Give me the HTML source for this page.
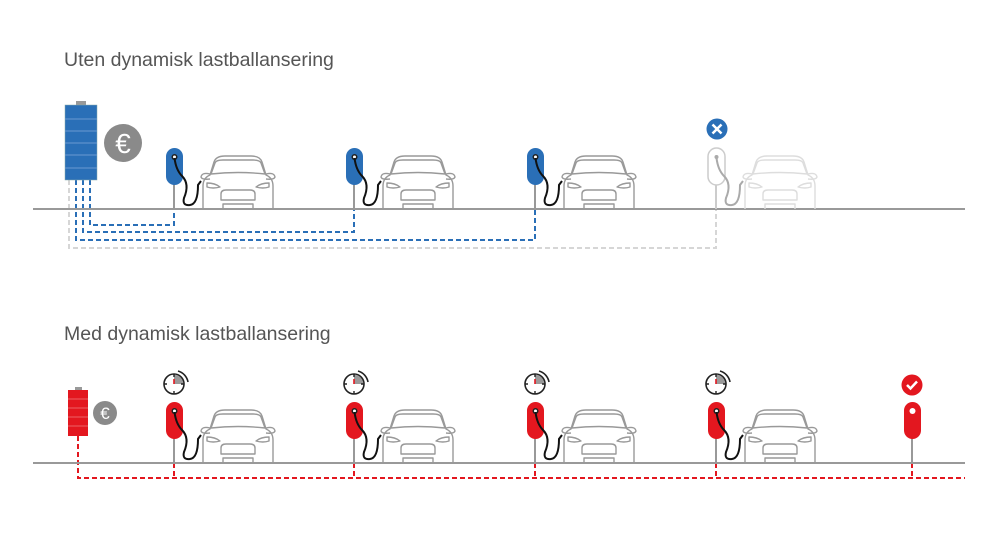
<!DOCTYPE html>
<html><head><meta charset="utf-8"><style>
html,body{margin:0;padding:0;background:#fff;width:1000px;height:533px;overflow:hidden}
text{font-family:"Liberation Sans",sans-serif}
</style></head><body>
<svg width="1000" height="533" viewBox="0 0 1000 533" xmlns="http://www.w3.org/2000/svg">
<defs>
<g id="car" fill="none" stroke-width="1.4" stroke-linejoin="round">
<path d="M4,54 L4,31 Q4,23 11,20 L15,7 Q17,1 26,1 L52,1 Q61,1 63,7 L67,20 Q74,23 74,31 L74,54"/>
<path d="M12,19 L16,8 Q17,5 24,5 L54,5 Q61,5 62,8 L66,19 Q39,16 12,19 Z"/>
<path d="M11,19 Q3,17 2,22 Q3,25 11,24"/><path d="M67,19 Q75,17 76,22 Q75,25 67,24"/>
<path d="M8,28 Q16,28 21,32 Q14,34 8,32 Z"/><path d="M70,28 Q62,28 57,32 Q64,34 70,32 Z"/>
<path d="M22,45 L22,39 Q22,35 27,35 L51,35 Q56,35 56,39 L56,45 Z"/>
<path d="M24,54 L24,49 L54,49 L54,54"/>
</g>
</defs>
<text x="64" y="66" font-size="19.5" fill="#555">Uten dynamisk lastballansering</text>
<text x="64" y="340" font-size="19.5" fill="#555">Med dynamisk lastballansering</text>

<g fill="none" stroke-width="2" stroke-dasharray="5,3">
<path d="M69,180 V248 H716 V209" stroke="#d6d6d6"/>
<path d="M76,180 V240 H535 V209" stroke="#2a6fb7"/>
<path d="M83,180 V232 H354 V209" stroke="#2a6fb7"/>
<path d="M90,180 V225 H174 V209" stroke="#2a6fb7"/>
</g>
<line x1="33" y1="209" x2="965" y2="209" stroke="#999" stroke-width="2"/>
<rect x="76" y="101" width="10" height="5" fill="#999"/>
<rect x="65" y="105" width="32" height="75" fill="#2a6fb7" stroke="#8aa" stroke-width="0.5"/>
<g stroke="#6a9ad0" stroke-width="1"><line x1="65" y1="119" x2="97" y2="119"/><line x1="65" y1="131" x2="97" y2="131"/><line x1="65" y1="143" x2="97" y2="143"/><line x1="65" y1="155" x2="97" y2="155"/><line x1="65" y1="168" x2="97" y2="168"/></g>
<circle cx="123" cy="143" r="19" fill="#8a8a8a"/>
<text x="123" y="153" font-size="28" fill="#fff" text-anchor="middle">€</text>

<g id="tc">
<line x1="174" y1="180" x2="174" y2="209" stroke="#999" stroke-width="2"/>
<rect x="166" y="148" width="17" height="37" rx="8.5" fill="#2a6fb7"/>
<circle cx="174.5" cy="157" r="3" fill="#222"/><circle cx="174.5" cy="157" r="1.5" fill="#fff"/>
<path d="M174.5,158 Q176,170 182,176 Q190,184 184,198 Q182,206 190,205 Q198,204 198,185 L201,181" fill="none" stroke="#111" stroke-width="2"/>
<use href="#car" x="199" y="155" stroke="#999"/>
</g>
<use href="#tc" x="180"/>
<use href="#tc" x="361"/>
<g>
<line x1="716" y1="180" x2="716" y2="209" stroke="#ccc" stroke-width="2"/>
<rect x="708" y="148" width="17" height="37" rx="8.5" fill="#fff" stroke="#ccc" stroke-width="1.5"/>
<circle cx="716.5" cy="157" r="2" fill="#aaa"/>
<path d="M716.5,158 Q718,170 724,176 Q732,184 726,198 Q724,206 732,205 Q740,204 740,185 L743,181" fill="none" stroke="#aaa" stroke-width="2"/>
<use href="#car" x="741" y="155" stroke="#ddd"/>
</g>
<circle cx="717" cy="129" r="10.5" fill="#2a6fb7"/>
<path d="M712.5,124.5 L721.5,133.5 M721.5,124.5 L712.5,133.5" stroke="#fff" stroke-width="2.5"/>

<path d="M78,436 V478 H965 M174,463 V478 M354,463 V478 M535,463 V478 M716,463 V478 M912,463 V478" fill="none" stroke="#e3171f" stroke-width="2" stroke-dasharray="5,3"/>
<line x1="33" y1="463" x2="965" y2="463" stroke="#999" stroke-width="2"/>
<rect x="75" y="387" width="7" height="3" fill="#999"/>
<rect x="68" y="390" width="20" height="46" fill="#e3171f"/>
<g stroke="#f27a7e" stroke-width="0.8"><line x1="68" y1="399" x2="88" y2="399"/><line x1="68" y1="408" x2="88" y2="408"/><line x1="68" y1="417" x2="88" y2="417"/><line x1="68" y1="426" x2="88" y2="426"/></g>
<circle cx="105" cy="413" r="12" fill="#8a8a8a"/>
<text x="105" y="419" font-size="17" fill="#fff" text-anchor="middle">€</text>

<g id="bc">
<line x1="174" y1="435" x2="174" y2="463" stroke="#999" stroke-width="2"/>
<rect x="166" y="402" width="17" height="37" rx="8.5" fill="#e3171f"/>
<circle cx="174.5" cy="411" r="3" fill="#222"/><circle cx="174.5" cy="411" r="1.5" fill="#fff"/>
<path d="M174.5,412 Q176,424 182,430 Q190,438 184,452 Q182,460 190,459 Q198,458 198,439 L201,435" fill="none" stroke="#111" stroke-width="2"/>
<use href="#car" x="199" y="409" stroke="#999"/>
<circle cx="174" cy="384" r="10" fill="#fff" stroke="#222" stroke-width="1.6"/>
<path d="M174,384 V374.8 A9.2,9.2 0 0 1 183.2,384 Z" fill="#9a9a9a"/>
<path d="M174,374 V377 M174,394 V391 M164,384 H167 M184,384 H181" stroke="#222" stroke-width="1.4"/>
<line x1="174" y1="384" x2="174" y2="379" stroke="#e3171f" stroke-width="1.6"/>
<path d="M178,371 A14,14 0 0 1 188,382" fill="none" stroke="#222" stroke-width="1.6"/>
</g>
<use href="#bc" x="180"/>
<use href="#bc" x="361"/>
<use href="#bc" x="542"/>
<line x1="912" y1="435" x2="912" y2="463" stroke="#999" stroke-width="2"/>
<rect x="904" y="402" width="17" height="37" rx="8.5" fill="#e3171f"/>
<circle cx="912.5" cy="411" r="3" fill="#fff"/>
<circle cx="912" cy="385" r="10.5" fill="#e3171f"/>
<path d="M907,385 L910.5,388.5 L917,381.5" fill="none" stroke="#fff" stroke-width="2.5"/>
</svg>
</body></html>
